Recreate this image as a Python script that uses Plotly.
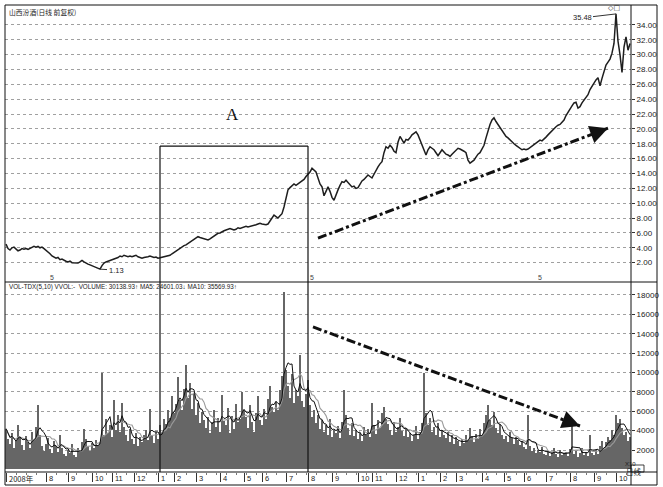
import plotly.graph_objects as go
import pandas as pd

# ---------------- data ----------------
close = [
    4.5, 3.9, 3.7, 4.0, 4.1, 3.8, 3.6, 3.7, 3.9, 3.8,
    3.9, 3.8, 3.9, 4.0, 4.2, 4.1, 4.2, 4.0, 4.1, 3.9,
    3.7, 3.5, 3.2, 2.9, 2.7, 2.6, 2.7, 2.4, 2.5, 2.3,
    2.2, 2.1, 2.2, 2.0, 2.0, 1.9, 1.95, 2.1, 2.3, 2.1,
    1.9, 1.8, 1.7, 1.6, 1.5, 1.35, 1.3, 1.13, 1.6, 1.95,
    2.1, 2.2, 2.2, 2.35, 2.5, 2.6, 2.7, 2.9, 2.8, 3.0,
    2.9, 2.8, 2.9, 2.8, 2.9, 3.0, 2.8, 2.7, 2.6, 2.7,
    2.7, 2.8, 2.9, 2.8, 2.7, 2.75, 2.6, 2.65, 2.7, 2.8,
    2.8, 2.9, 3.0, 3.2, 3.4, 3.5, 3.7, 3.9, 4.1, 4.3,
    4.4, 4.6, 4.8, 5.0, 5.2, 5.4, 5.5, 5.4, 5.3, 5.3,
    5.2, 5.05, 5.2, 5.4, 5.6, 5.8, 5.95, 6.0, 6.2, 6.3,
    6.4, 6.5, 6.6, 6.5, 6.4, 6.5, 6.7, 6.6, 6.7, 6.8,
    6.9, 6.8, 6.85, 6.9, 7.0, 7.1, 7.2, 7.3, 7.2, 7.1,
    7.1, 7.2, 7.6, 8.1, 8.4, 8.2, 8.0, 8.3, 8.6, 9.5,
    10.8, 11.8, 12.1, 12.4, 12.6, 12.4, 12.6, 12.9, 13.0, 13.2,
    13.6, 13.9, 14.2, 14.7, 14.5, 14.2, 13.4, 12.6, 12.2, 11.0,
    11.6, 12.2, 11.6, 10.8, 10.4, 11.2, 11.8, 12.4, 12.9, 12.8,
    13.1, 12.8, 12.5, 12.2, 12.3, 12.0, 12.1, 12.6, 13.0, 13.2,
    13.5, 13.8, 13.6, 13.4, 13.9, 14.5, 14.9, 15.3, 15.6, 16.8,
    17.6, 17.4, 17.8, 17.5, 17.0, 16.8, 18.2, 19.0, 18.5, 18.1,
    18.6, 18.5, 18.8, 19.2, 19.4, 19.6, 19.2, 18.5, 18.0, 17.2,
    16.5, 17.2, 17.6, 17.4, 17.2, 16.8, 16.4, 16.8, 17.2, 16.9,
    16.6, 16.5, 16.3, 16.6, 16.9, 17.2, 17.4, 17.3, 17.2, 17.0,
    16.8, 15.8, 15.4, 15.6, 15.8, 16.2, 16.6, 16.8, 17.3, 17.8,
    18.8, 19.8, 20.6, 21.2, 21.5, 21.0, 20.6, 20.2, 19.8, 19.4,
    19.0, 18.8, 18.5, 18.3, 18.0, 17.8, 17.6, 17.4, 17.2, 17.3,
    17.2, 17.3, 17.5, 17.7, 17.9, 18.1, 18.3, 18.5, 18.4, 18.6,
    18.9, 19.2, 19.5, 19.8, 20.1, 20.3, 20.5, 20.6, 20.9, 21.2,
    21.8, 22.3, 22.6, 23.1, 23.5, 23.6, 22.8, 23.0, 23.5, 23.9,
    24.2, 24.6, 25.3, 25.8, 26.3, 26.6, 26.9, 25.8, 26.8, 27.6,
    28.6, 29.0, 29.4, 30.2, 31.5, 35.48, 31.8, 30.0, 27.6, 31.0,
    32.4, 30.6, 31.5,
]

volume = [
    4200, 3100, 2600, 3800, 2200, 2900, 4600, 3300, 2500, 2000,
    3400, 2800, 2200, 3900, 3000, 4400, 6600, 3600, 2400, 1900,
    2600, 3200, 2100, 1700, 2900, 2400, 1800, 3500, 2200, 1600,
    1400, 2000, 1700, 2600, 1500, 1300, 2200, 1900, 2800, 4200,
    3100, 2400, 1900, 2700, 2200, 3000, 2500, 2800, 10000, 3600,
    5200, 3800, 4600, 3300, 7200, 4100, 5600, 3900, 6900, 4400,
    3600, 2900, 4200, 3100, 2600, 3800, 2400, 3300, 2800, 3500,
    4100, 3000, 6200, 3400, 2700, 3900, 3100, 4600, 3800, 5200,
    4700, 6100, 5300, 7600, 5800, 6800, 9500, 7200, 6100, 8300,
    10800, 7400, 8900, 6200, 7800, 5600, 6900, 4800, 5900, 5100,
    4300, 5400, 3800, 4900, 6100, 4400, 5300, 3900, 7700, 5000,
    4600, 6300, 3800, 5500, 4200, 6800, 4900, 5200, 8000, 6100,
    5400, 4300, 6600, 4900, 3900, 5800, 7600, 5100, 4600, 6200,
    5200, 7300, 8600, 6400, 5900, 7000, 6100, 8200, 9600, 18300,
    10300, 8600, 7400, 9800, 6900, 8200, 7600, 11800, 7100, 6400,
    7800, 9200, 6600, 5400, 6100, 4800, 5600, 4200, 5100, 3900,
    4600, 3600, 5200, 3300, 4100, 3800, 4500, 3200, 4900, 8200,
    5600, 4300, 3600, 4800, 3400, 4100, 3100, 3800, 2900, 4400,
    3600, 4200, 3300, 6900, 4600, 3700, 5100, 4300, 5800, 6400,
    5200, 4700, 4100, 3600, 4900, 3900, 4400, 5300, 4000, 3400,
    4200, 3300, 3800, 2900, 3600, 4500, 3100, 3900, 4800, 10000,
    5800, 4600, 5300, 3900, 4400, 3600, 4800, 3300, 4100, 3500,
    3200, 3900, 2800, 3500, 2600, 3300, 2900, 2400, 3100, 2700,
    3600, 2900, 4300, 3400, 2800, 3700, 3100, 4200, 3600, 4800,
    5600, 6600, 5100, 4600, 5900, 4300, 3800, 4700, 3500, 3100,
    3400, 2800, 3900, 3200, 2600, 3300, 3000, 2500, 2900, 2300,
    2100, 5600, 2400, 1900, 2200, 1700, 2000, 1800, 2300, 1600,
    1500, 1900, 1400, 1800, 2200, 1600, 1300, 2000, 1500, 1700,
    1800, 1400, 2100, 4600, 1600, 1900, 1300, 1700, 2200, 1500,
    1800, 1400, 3600, 1700, 1500, 2000, 1600, 2400, 2900, 2200,
    2800, 3300, 3000, 4100, 3600, 5600, 4800, 5200, 4300, 3500,
    3900, 2900, 3300,
]

month_labels = ["2008年", "8", "9", "10", "11", "12", "1", "2", "3", "4", "5", "6", "7",
                "8", "9", "10", "11", "12", "1", "2", "3", "4", "5", "6", "7", "8", "9", "10"]
month_index = [0, 20, 31, 43, 53, 64, 76, 84, 95, 107, 119, 128, 140,
               151, 163, 176, 183, 195, 206, 217, 225, 238, 249, 259, 270, 282, 294, 305]

price_ticks = [2, 4, 6, 8, 10, 12, 14, 16, 18, 20, 22, 24, 26, 28, 30, 32, 34]
vol_ticks = [2000, 4000, 6000, 8000, 10000, 12000, 14000, 16000, 18000]

low_index, low_value = 47, 1.13
high_index, high_value = 305, 35.48
box_start, box_end, box_top = 77, 151, 17.7
price_arrow = (156, 5.3, 301, 20.1)
vol_arrow = (153.5, 14700, 287, 4480)
marker_index = [23, 153, 267]

title_text = "山西汾酒(日线 前复权)"
vol_text = "VOL-TDX(5,10) VVOL:-  VOLUME: 30138.93↑ MA5: 24601.03↓ MA10: 35569.93↑"

# ---------------- derived ----------------
x = list(range(len(close)))
vs = pd.Series(volume)
ma5 = vs.rolling(5, min_periods=1).mean()
ma10 = vs.rolling(10, min_periods=1).mean()

W, H = 663, 487
L, R, T, B = 5, 631, 5, 472   # plot area pixel edges
PW, PH = R - L, B - T
SEP = 282


def px(xp):
    return (xp - L) / PW


def py(yp):
    return (B - yp) / PH


FONT = "Liberation Sans, Arial, sans-serif"
CJK = "Noto Sans CJK SC, sans-serif"

fig = go.Figure()
fig.add_trace(go.Bar(x=x, y=volume, marker=dict(color="#666666", line=dict(width=0)),
                     width=0.6, yaxis="y2", xaxis="x", showlegend=False))
fig.add_trace(go.Scatter(x=x, y=ma10, mode="lines", line=dict(color="#9a9a9a", width=1.1),
                         yaxis="y2", xaxis="x", showlegend=False))
fig.add_trace(go.Scatter(x=x, y=ma5, mode="lines", line=dict(color="#111", width=1.0),
                         yaxis="y2", xaxis="x", showlegend=False))
fig.add_trace(go.Scatter(x=x, y=close, mode="lines", line=dict(color="#1e1e1e", width=1.5),
                         yaxis="y", xaxis="x", showlegend=False))

split = py(SEP)
fig.update_layout(
    width=W, height=H,
    margin=dict(l=L, r=W - R, t=T, b=H - B),
    paper_bgcolor="white", plot_bgcolor="white",
    bargap=0,
    xaxis=dict(range=[-0.5, len(close) - 0.5], anchor="y2", showgrid=False, zeroline=False,
               showline=False, tickvals=month_index, ticks="outside", ticklen=9,
               tickcolor="#333", showticklabels=False,
               minor=dict(ticks="outside", ticklen=2, dtick=5, tickcolor="#777")),
    yaxis=dict(domain=[split, 1], range=[-0.6, 36.68], side="right", tickvals=price_ticks,
               tickformat=".2f", ticks="outside", ticklen=3, tickcolor="#333",
               tickfont=dict(family=FONT, size=8, color="#222"),
               showgrid=True, gridcolor="#a0a0a0", griddash="dot", gridwidth=1,
               zeroline=False, showline=False),
    yaxis2=dict(domain=[0, split], range=[-271, 19341], side="right", tickvals=vol_ticks,
                tickformat="d", ticks="outside", ticklen=3, tickcolor="#333",
                tickfont=dict(family=FONT, size=8, color="#222"),
                showgrid=True, gridcolor="#a0a0a0", griddash="dot", gridwidth=1,
                zeroline=False, showline=False),
)

shapes = []
line_k = dict(color="#111", width=1)
# outer frame and panel separators
shapes.append(dict(type="rect", xref="paper", yref="paper", x0=px(5), x1=px(657), y0=py(485), y1=py(5), line=line_k))
shapes.append(dict(type="line", xref="paper", yref="paper", x0=px(R), x1=px(R), y0=py(485), y1=py(5), line=line_k))
shapes.append(dict(type="line", xref="paper", yref="paper", x0=px(5), x1=px(657), y0=py(SEP), y1=py(SEP), line=line_k))
shapes.append(dict(type="line", xref="paper", yref="paper", x0=px(5), x1=px(657), y0=py(B), y1=py(B), line=line_k))
# X10 box
shapes.append(dict(type="rect", xref="paper", yref="paper", x0=px(R), x1=px(644), y0=py(B), y1=py(465), line=dict(color="#111", width=0.8)))
# highlight box
shapes.append(dict(type="line", xref="x", yref="paper", x0=box_start, x1=box_start, y0=0, y1=py(146), line=dict(color="#111", width=1.2)))
shapes.append(dict(type="line", xref="x", yref="paper", x0=box_end, x1=box_end, y0=0, y1=py(146), line=dict(color="#111", width=1.2)))
shapes.append(dict(type="line", xref="x", yref="y", x0=box_start, x1=box_end, y0=box_top, y1=box_top, line=dict(color="#111", width=1.2)))
# dash-dot arrows
shapes.append(dict(type="line", xref="x", yref="y", x0=price_arrow[0], y0=price_arrow[1], x1=price_arrow[2], y1=price_arrow[3],
                   line=dict(color="#111", width=3, dash="dashdot")))
shapes.append(dict(type="line", xref="x", yref="y2", x0=vol_arrow[0], y0=vol_arrow[1], x1=vol_arrow[2], y1=vol_arrow[3],
                   line=dict(color="#111", width=3, dash="dashdot")))
fig.update_layout(shapes=shapes)

ann = []
ann.append(dict(x=price_arrow[2], y=price_arrow[3], xref="x", yref="y", ax=-12, ay=4.5, text="",
                showarrow=True, arrowhead=2, arrowsize=1.2, arrowwidth=3, arrowcolor="#111"))
ann.append(dict(x=vol_arrow[2], y=vol_arrow[3], xref="x", yref="y2", ax=-12, ay=-4.5, text="",
                showarrow=True, arrowhead=2, arrowsize=1.2, arrowwidth=3, arrowcolor="#111"))
ann.append(dict(x=px(7), y=py(12), xref="paper", yref="paper", text=title_text, showarrow=False,
                xanchor="left", yanchor="middle", font=dict(family=CJK, size=6.8, color="#222")))
ann.append(dict(x=px(7), y=py(287), xref="paper", yref="paper", text=vol_text, showarrow=False,
                xanchor="left", yanchor="middle", font=dict(family=FONT, size=6.3, color="#222")))
ann.append(dict(x=113, y=21.9, xref="x", yref="y", text="A", showarrow=False,
                font=dict(family="Liberation Serif, Times New Roman, serif", size=17, color="#111")))
ann.append(dict(x=low_index, y=low_value, xref="x", yref="y", text=f"{low_value:.2f}", showarrow=True,
                arrowhead=0, arrowwidth=1, arrowcolor="#333", ax=16, ay=1, standoff=0,
                font=dict(family=FONT, size=7.5, color="#222")))
ann.append(dict(x=high_index, y=high_value, xref="x", yref="y", text=f"{high_value:.2f}", showarrow=True,
                arrowhead=0, arrowwidth=1, arrowcolor="#333", ax=-34, ay=4, standoff=0,
                font=dict(family=FONT, size=7.5, color="#222")))
ann.append(dict(x=px(622), y=py(8), xref="paper", yref="paper", text="◇□", showarrow=False,
                yanchor="middle", font=dict(family="DejaVu Sans", size=7, color="#333")))
for mi in marker_index:
    ann.append(dict(x=mi, y=py(277), xref="x", yref="paper", text="5", showarrow=False,
                    font=dict(family=FONT, size=7, color="#444")))
for lab, idx in zip(month_labels, month_index):
    ann.append(dict(x=idx, y=py(478.5), xref="x", yref="paper", text=lab, showarrow=False,
                    xanchor="left", yanchor="middle", xshift=1,
                    font=dict(family=CJK if "年" in lab else FONT, size=7.5, color="#222")))
ann.append(dict(x=px(638), y=py(469), xref="paper", yref="paper", text="X10", showarrow=False,
                font=dict(family=FONT, size=6, color="#222")))
ann.append(dict(x=px(644), y=py(478.5), xref="paper", yref="paper", text="日线", showarrow=False,
                font=dict(family=CJK, size=7.5, color="#222")))
fig.update_layout(annotations=ann)

fig.write_html("out.html", config={"displayModeBar": False},
               post_script="document.body.style.margin='0';document.body.style.padding='0';"
                           "document.body.style.overflow='hidden';")
